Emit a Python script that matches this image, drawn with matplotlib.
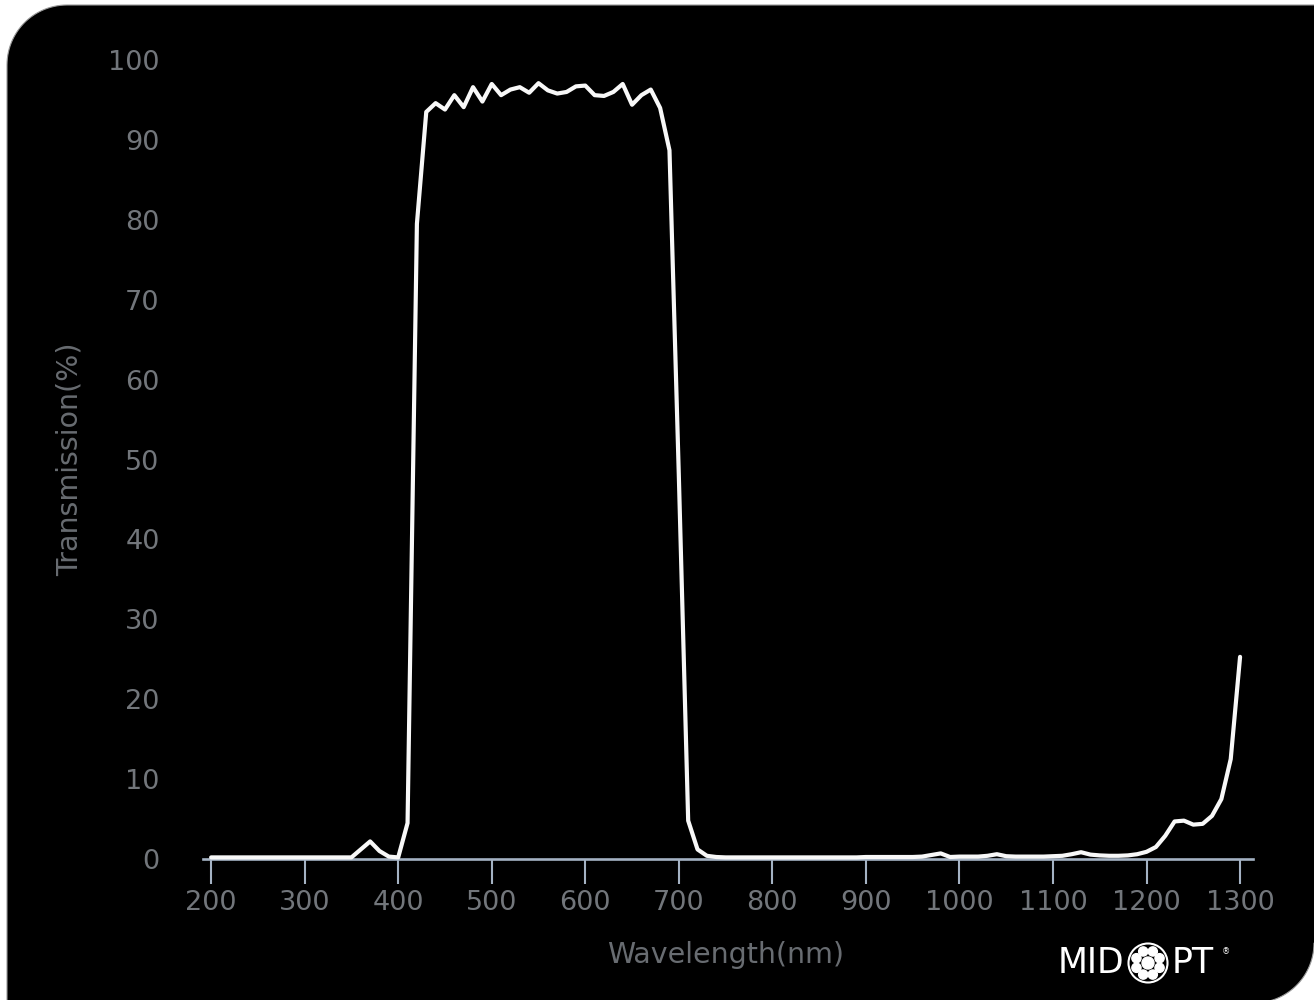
"""
MidOpt-style transmission curve, white trace on black rounded panel.
"""
import matplotlib
matplotlib.use("Agg")
import matplotlib.pyplot as plt
import numpy as np
from matplotlib.patches import Polygon, Circle

W, H = 1314, 1000

# wavelength grid (nm) and transmission (%)
wavelength = list(range(200, 1310, 10))
transmission = [
    # 200 - 340
    0.2, 0.2, 0.2, 0.2, 0.2, 0.2, 0.2, 0.2, 0.2, 0.2, 0.2, 0.2, 0.2, 0.2, 0.2,
    # 350 - 740
    0.2, 1.2, 2.2, 1.0, 0.3, 0.2, 4.5, 79.5, 93.5, 94.6,
    93.8, 95.6, 94.1, 96.6, 94.8, 97.0, 95.6, 96.3, 96.6, 95.9,
    97.1, 96.2, 95.8, 96.0, 96.7, 96.8, 95.6, 95.5, 96.0, 97.0,
    94.4, 95.6, 96.3, 94.0, 88.7, 48.0, 4.8, 1.2, 0.4, 0.25,
    # 750 - 950
    0.2, 0.2, 0.2, 0.2, 0.2, 0.2, 0.2, 0.2, 0.2, 0.2, 0.2,
    0.2, 0.2, 0.2, 0.2, 0.25, 0.25, 0.25, 0.25, 0.25, 0.25,
    # 960 - 1300
    0.3, 0.5, 0.7, 0.25, 0.3, 0.3, 0.3, 0.4, 0.6, 0.35,
    0.3, 0.3, 0.3, 0.3, 0.35, 0.4, 0.6, 0.85, 0.55, 0.45,
    0.4, 0.4, 0.45, 0.6, 0.9, 1.5, 2.9, 4.7, 4.8, 4.3,
    4.4, 5.4, 7.5, 12.5, 25.3,
]
x_ticks = [200, 300, 400, 500, 600, 700, 800, 900, 1000, 1100, 1200, 1300]
y_ticks = [0, 10, 20, 30, 40, 50, 60, 70, 80, 90, 100]

TICK_COL = "#72767b"
LABEL_COL = "#686c71"
AXIS_COL = "#a4b2c3"

fig = plt.figure(figsize=(W / 100, H / 100), dpi=100)
fig.patch.set_facecolor("white")


# black panel: rounded top-left and bottom-right corners (pixel coords, y up)
def arc(cx, cy, r, a0, a1, n=30):
    t = np.radians(np.linspace(a0, a1, n))
    return np.column_stack([cx + r * np.cos(t), cy + r * np.sin(t)])


r = 60
left, top, right, bottom = 7, H - 5, 1314, -3
pts = np.vstack([
    arc(left + r, top - r, r, 180, 90),
    [[right + 20, top]],
    [[right + 20, bottom + r]],
    arc(right - r, bottom + r, r, 0, -90),
    [[left, bottom - 20]],
])
pts = pts / [W, H]
fig.add_artist(Polygon(pts, closed=True, transform=fig.transFigure,
                       facecolor="black", edgecolor="#9a9a9a", linewidth=0.8,
                       zorder=0))

ax = fig.add_axes([202.7 / W, 1 - 859 / H, 1050 / W, 799 / H])
ax.set_facecolor("none")
ax.plot(wavelength, transmission, color="#f8f8f8", lw=3,
        solid_joinstyle="round", solid_capstyle="round", clip_on=False,
        zorder=3)

ax.set_xlim(191, 1313.5)
ax.set_ylim(0, 100)
ax.set_xticks(x_ticks)
ax.set_yticks(y_ticks)

for s in ["top", "right", "left"]:
    ax.spines[s].set_visible(False)
ax.spines["bottom"].set_color(AXIS_COL)
ax.spines["bottom"].set_linewidth(1.9)
ax.spines["bottom"].set_zorder(2)

ax.tick_params(axis="x", colors=AXIS_COL, length=18, width=1.5, pad=4,
               labelcolor=TICK_COL, labelsize=19.5)
ax.tick_params(axis="y", length=0, pad=31, labelcolor=TICK_COL,
               labelsize=19.5)

ax.set_xlabel("Wavelength(nm)", fontsize=20.5, color=LABEL_COL)
ax.set_ylabel("Transmission(%)", fontsize=20.5, color=LABEL_COL)
ax.xaxis.set_label_coords((726 - 202.7) / 1050, (859 - 955) / 799)
ax.xaxis.label.set_verticalalignment("center")
ax.yaxis.set_label_coords((70 - 202.7) / 1050, 0.5)
ax.yaxis.label.set_verticalalignment("center")

# logo, drawn in pixel units
lx0, lx1, ly0, ly1 = 1040, 1300, 935, 1000
lax = fig.add_axes([lx0 / W, 1 - ly1 / H, (lx1 - lx0) / W, (ly1 - ly0) / H])
lax.set_xlim(lx0, lx1)
lax.set_ylim(ly1, ly0)
lax.axis("off")
lax.text(1124, 963, "MID", color="white", fontsize=25, ha="right",
         va="center")
lax.text(1172, 963, "PT", color="white", fontsize=25, ha="left",
         va="center")
lax.text(1226, 952, "®", color="white", fontsize=6, ha="center", va="center")
ccx, ccy = 1148, 963
lax.add_patch(Circle((ccx, ccy), 19.5, facecolor="none", edgecolor="white",
                     lw=1.5))
lax.add_patch(Circle((ccx, ccy), 6, color="white"))
for a in np.radians(np.arange(0, 360, 45) + 22.5):
    lax.add_patch(Circle((ccx + 12.5 * np.cos(a), ccy + 12.5 * np.sin(a)),
                         4.6, color="white"))

fig.savefig("out.png", dpi=100, facecolor=fig.get_facecolor())
